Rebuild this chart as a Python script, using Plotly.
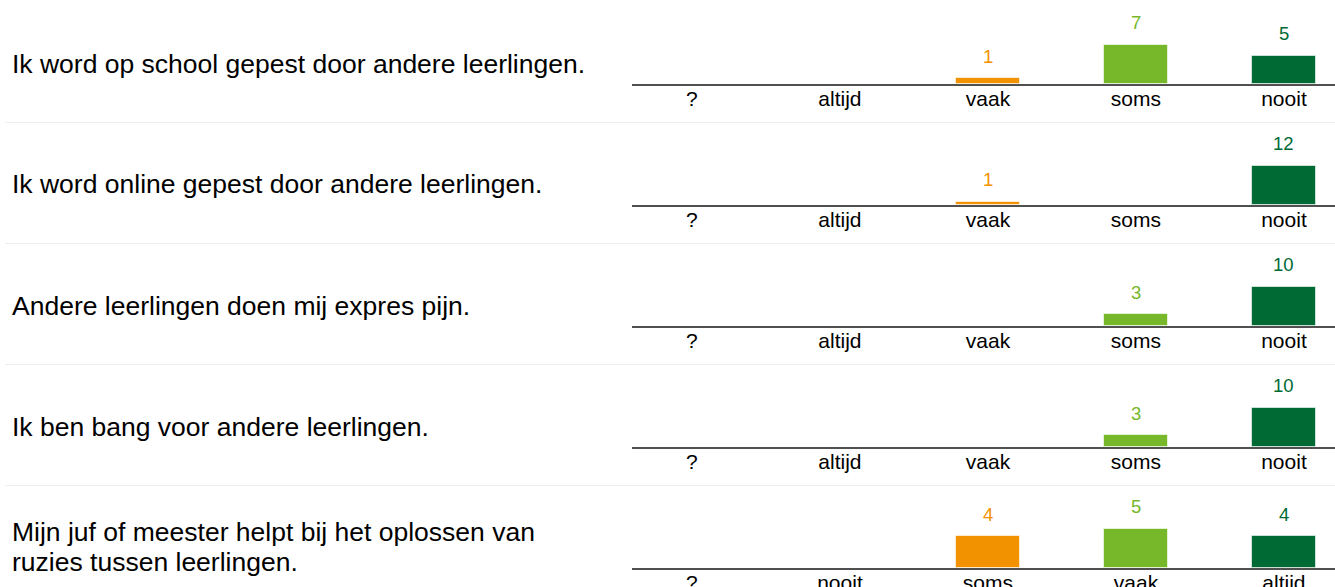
import plotly.graph_objects as go

# ---- data ----
questions = [
    "Ik word op school gepest door andere leerlingen.",
    "Ik word online gepest door andere leerlingen.",
    "Andere leerlingen doen mij expres pijn.",
    "Ik ben bang voor andere leerlingen.",
    "Mijn juf of meester helpt bij het oplossen van<br>ruzies tussen leerlingen.",
]
scale_a = ["?", "altijd", "vaak", "soms", "nooit"]
scale_b = ["?", "nooit", "soms", "vaak", "altijd"]
row_scales = [scale_a, scale_a, scale_a, scale_a, scale_b]

counts_1 = [0, 0, 1, 7, 5]
counts_2 = [0, 0, 1, 0, 12]
counts_3 = [0, 0, 0, 3, 10]
counts_4 = [0, 0, 0, 3, 10]
counts_5 = [0, 0, 4, 5, 4]
row_counts = [counts_1, counts_2, counts_3, counts_4, counts_5]

bar_colors = ["#9d9d9d", "#c8c8c8", "#f39200", "#76b82a", "#006a34"]

# ---- layout constants ----
W, H = 1335, 587
PITCH = 121
BASE0 = 84
SUB_H = 60
MAX_BAR_PX = 39.5
FONT = "Liberation Sans, Arial, sans-serif"

fig = go.Figure()
annotations = []
shapes = []
layout_axes = {}

for i, (cats, vals) in enumerate(zip(row_scales, row_counts)):
    n = "" if i == 0 else str(i + 1)
    xa, ya = "x" + n, "y" + n
    base = BASE0 + PITCH * i
    fig.add_trace(go.Bar(
        x=list(range(len(cats))), y=vals,
        marker=dict(color=bar_colors, line=dict(color="rgba(255,255,255,0.6)", width=1)),
        width=0.432, xaxis=xa, yaxis=ya, showlegend=False, hoverinfo="skip",
    ))
    layout_axes["xaxis" + n] = dict(
        domain=[632 / W, 1], range=[-0.405, 4.345], anchor=ya,
        tickmode="array", tickvals=list(range(len(cats))), ticktext=cats,
        tickfont=dict(family=FONT, size=21, color="#000"),
        ticklabelstandoff=-5, automargin=False,
        showline=True, linecolor="#505050", linewidth=1.5,
        showgrid=False, zeroline=False, ticks="", fixedrange=True,
    )
    vmax = max(vals)
    layout_axes["yaxis" + n] = dict(
        domain=[1 - base / H, 1 - (base - SUB_H) / H], anchor=xa,
        range=[0, vmax * SUB_H / MAX_BAR_PX], visible=False, fixedrange=True,
        automargin=False,
    )
    for j, v in enumerate(vals):
        if v > 0:
            annotations.append(dict(
                x=j, y=v, xref=xa, yref=ya, text=str(v), showarrow=False,
                yanchor="middle", yshift=22,
                font=dict(family=FONT, size=18.5, color=bar_colors[j]),
            ))
    # question text
    lines = questions[i].split("<br>")
    center = 63.5 + PITCH * i
    nl = len(lines)
    for k, line in enumerate(lines):
        ypx = center + (k - (nl - 1) / 2) * 29.4 - (0.5 if nl > 1 else 0)
        annotations.append(dict(
            x=10 / W, y=1 - ypx / H, xref="paper", yref="paper", text=line,
            showarrow=False, xanchor="left", yanchor="middle",
            font=dict(family=FONT, size=26.5, color="#000"),
        ))
    if i < 4:
        ysep = 122.5 + PITCH * i
        shapes.append(dict(type="line", xref="paper", yref="paper",
                           x0=5 / W, x1=1, y0=1 - ysep / H, y1=1 - ysep / H,
                           line=dict(color="#eeeeee", width=1)))

fig.update_layout(
    width=W, height=H, margin=dict(l=0, r=0, t=0, b=0, pad=0),
    paper_bgcolor="white", plot_bgcolor="white",
    annotations=annotations, shapes=shapes, bargap=0,
    **layout_axes,
)

fig.write_html(
    "out.html",
    config={"displayModeBar": False},
    post_script="document.body.style.margin='0';document.body.style.overflow='hidden';"
                "document.documentElement.style.overflow='hidden';",
)
